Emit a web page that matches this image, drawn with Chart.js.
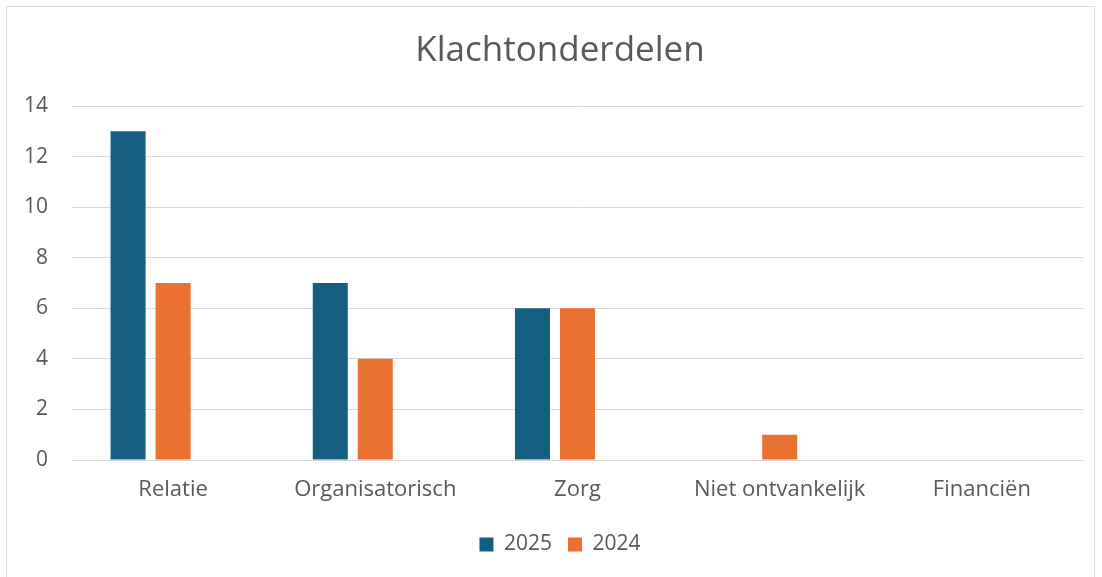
<!DOCTYPE html>
<html>
<head>
<meta charset="utf-8">
<script src="https://cdn.jsdelivr.net/npm/chart.js@4/dist/chart.umd.min.js"></script>
<style>
  html, body { margin: 0; padding: 0; background: #fff; }
  #wrap { position: relative; width: 1102px; height: 577px; overflow: hidden; }
  #frame { position: absolute; left: 6px; top: 6px; width: 1089px; height: 600px; border: 1px solid #d9d9d9; box-sizing: border-box; }
  canvas { position: absolute; left: 0; top: 0; }
</style>
</head>
<body>
<div id="wrap">
  <div id="frame"></div>
  <canvas id="klacht" width="1102" height="577"></canvas>
</div>
<script>
const categories = ['Relatie', 'Organisatorisch', 'Zorg', 'Niet ontvankelijk', 'Financiën'];
const values2025 = [13, 7, 6, 0, 0];
const values2024 = [7, 4, 6, 1, 0];
const emptySeries = [null, null, null, null, null];   // lege derde reeks, houdt de ruimte vrij zoals in Excel
const yTicks = [0, 2, 4, 6, 8, 10, 12, 14];

const textColor = '#595959';
const fontFamily = '"Open Sans", "Noto Sans", sans-serif';

// titel en legenda staan in Excel iets rechts van het midden
const shiftBlocks = {
    id: 'shiftBlocks',
    afterLayout(chart) {
        chart.titleBlock.left = 37;
        chart.legend.left = 37;
    }
};

const ctx = document.getElementById('klacht');

new Chart(ctx, {
    type: 'bar',
    data: {
        labels: categories,
        datasets: [
            { label: '2025', data: values2025, backgroundColor: '#156082' },
            { label: '2024', data: values2024, backgroundColor: '#E97132' },
            { label: '', data: emptySeries, backgroundColor: 'rgba(0,0,0,0)' }
        ]
    },
    options: {
        responsive: false,
        animation: false,
        datasets: {
            bar: { categoryPercentage: 0.668, barPercentage: 0.778 }
        },
        layout: { padding: { left: 0, right: 19, top: 0, bottom: 12 } },
        plugins: {
            title: {
                display: true,
                text: 'Klachtonderdelen',
                color: textColor,
                font: { family: fontFamily, size: 35, weight: 'normal' },
                padding: { top: 30, bottom: 34 }
            },
            legend: {
                position: 'bottom',
                labels: {
                    color: textColor,
                    font: { family: fontFamily, size: 21 },
                    boxWidth: 14,
                    boxHeight: 14,
                    padding: 16,
                    filter: item => item.text !== ''
                }
            },
            tooltip: { enabled: false }
        },
        scales: {
            x: {
                grid: { display: false, drawTicks: false },
                border: { display: true, color: '#d9d9d9', width: 1 },
                ticks: { color: textColor, font: { family: fontFamily, size: 22 }, padding: 17, maxRotation: 0 },
                afterFit: scale => { scale.height = 58; }
            },
            y: {
                min: 0,
                max: 14,
                afterBuildTicks: scale => { scale.ticks = yTicks.map(v => ({ value: v })); },
                grid: { color: '#d9d9d9', drawTicks: false },
                border: { display: false },
                ticks: { color: textColor, font: { family: fontFamily, size: 21 }, padding: 24 },
                afterFit: scale => { scale.width = 72; }
            }
        }
    },
    plugins: [shiftBlocks]
});
</script>
</body>
</html>
